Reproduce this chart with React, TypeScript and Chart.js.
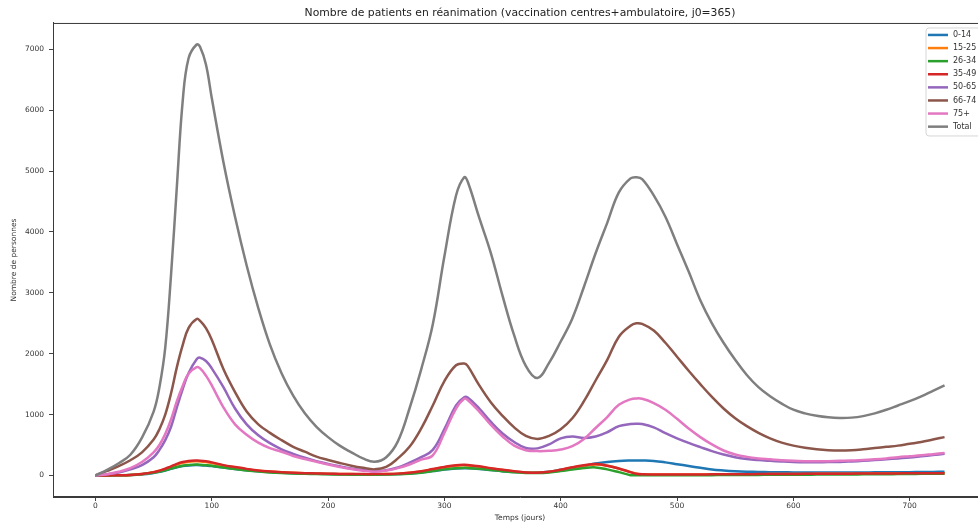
import React, { useEffect, useRef } from "react";
import { Chart, registerables } from "chart.js";

Chart.register(...registerables);

// Days (x values)
const days = [0,10,20,30,40,50,55,60,65,70,75,80,87,90,95,100,110,120,130,140,150,160,170,180,190,200,210,220,230,240,250,260,270,280,290,300,310,317,320,330,340,350,360,370,380,390,400,410,420,430,440,450,460,465,470,480,490,500,510,520,530,540,550,560,570,580,590,600,610,620,630,640,650,660,670,680,690,700,710,720,730];

const xTicks = [0, 100, 200, 300, 400, 500, 600, 700];
const yTicks = [0, 1000, 2000, 3000, 4000, 5000, 6000, 7000];

const seriesLabels = ["0-14", "15-25", "26-34", "35-49", "50-65", "66-74", "75+", "Total"];

const age0_14 = [0,1,2,6,18,42,60,80,108,135,155,165,170,169,163,
  155,130,106,85,68,55,45,38,32,28,24,21,19,18,18,20,24,32,48,72,98,115,
  118,
  117,105,88,70,56,48,47,62,92,125,160,195,220,236,245,
  247,
  246,238,215,185,155,125,98,82,70,62,57,54,52,50,49,49,49,49,50,50,51,52,53,54,56,58,60];

const age15_25 = [0,1,3,7,23,52,76,104,142,180,209,226,233,231,220,
  204,162,131,103,78,63,51,43,36,31,27,24,22,21,21,23,28,43,66,100,133,160,
  166,
  163,143,114,88,65,48,44,57,90,128,160,180,160,112,55,
  28,
  17,14,14,14,15,16,17,18,19,20,21,22,23,24,25,26,27,28,29,30,31,32,33,34,35,36,37];

const age26_34 = [0,1,3,7,20,45,63,85,115,140,160,172,178,176,168,
  158,130,104,82,64,50,40,33,27,22,18,15,13,12,12,14,18,28,45,72,100,120,
  125,
  124,110,90,70,52,42,40,50,72,98,122,132,100,55,5,
  2,
  2,3,3,4,4,5,5,6,7,8,9,10,11,12,13,14,15,16,17,18,20,21,22,24,26,28,30];

const age35_49 = [0,1,3,8,25,55,80,110,150,190,220,238,245,243,232,
  215,170,138,108,82,66,54,45,38,33,28,25,23,22,22,24,30,45,70,105,140,168,
  175,
  172,150,120,92,68,50,46,60,95,135,168,190,160,115,55,
  28,
  18,15,15,15,16,17,18,19,20,21,22,23,24,25,26,27,28,29,30,31,32,33,34,35,36,37,38];

const age50_65 = [0,20,50,100,170,300,420,580,800,1120,1420,1680,1910,1935,1880,
  1760,1450,1100,840,660,530,430,355,290,235,190,150,115,90,70,85,130,210,300,420,760,1150,
  1285,
  1280,1100,880,690,550,450,445,510,610,640,615,640,710,810,845,
  850,
  845,790,695,610,535,466,400,345,300,270,252,240,230,222,218,218,220,222,230,240,252,265,280,295,315,335,355];

const age66_74 = [0,75,155,250,380,590,760,1000,1350,1780,2140,2420,2570,2540,2420,
  2230,1750,1370,1050,840,700,580,470,390,310,255,205,160,125,100,140,280,470,770,1150,1550,1810,
  1840,
  1800,1480,1200,980,790,650,600,650,760,940,1220,1560,1900,2280,2460,
  2500,
  2490,2380,2180,1950,1720,1500,1290,1100,940,810,700,610,540,490,455,430,415,410,415,430,450,470,490,520,550,590,630];

const age75plus = [0,20,60,120,220,380,500,680,920,1220,1470,1670,1780,1760,1640,
  1480,1120,840,670,540,450,390,320,270,225,180,140,105,78,62,80,120,180,260,330,700,1100,
  1260,
  1240,1050,830,640,490,415,400,405,425,480,600,780,960,1160,1250,
  1265,
  1260,1190,1080,930,770,630,510,410,345,305,280,265,250,240,235,233,235,240,245,255,265,280,300,315,330,350,370];

const total = [0,90,200,340,620,1050,1450,2100,3300,4750,6150,6850,7080,7040,6750,
  6200,5150,4250,3450,2750,2150,1680,1310,1020,800,630,490,380,280,225,300,560,1100,1740,2480,3600,4600,
  4900,
  4830,4230,3650,2950,2300,1800,1600,1850,2200,2580,3100,3650,4150,4650,4880,
  4900,
  4870,4600,4250,3800,3350,2880,2500,2180,1900,1650,1450,1300,1180,1080,1020,980,955,945,950,975,1020,1080,1150,1220,1300,1390,1480];

const seriesValues = [age0_14, age15_25, age26_34, age35_49, age50_65, age66_74, age75plus, total];
const seriesColors = ["#1f77b4", "#ff7f0e", "#2ca02c", "#d62728", "#9467bd", "#8c564b", "#e377c2", "#7f7f7f"];

const FONT = '"DejaVu Sans", sans-serif';

const frameLegendPlugin = {
  id: "frameLegend",
  afterDraw(chart: any) {
    const { ctx, chartArea: a } = chart;
    ctx.save();
    ctx.strokeStyle = "#3a3a3a";
    ctx.lineWidth = 1;
    ctx.strokeRect(a.left + 0.5, a.top + 0.5, a.right - a.left - 1, a.bottom - a.top - 1);
    const bx = a.right - 61, by = a.top + 5, bw = 58, bh = 108, r = 3;
    ctx.beginPath();
    ctx.moveTo(bx + r, by);
    ctx.lineTo(bx + bw - r, by);
    ctx.quadraticCurveTo(bx + bw, by, bx + bw, by + r);
    ctx.lineTo(bx + bw, by + bh - r);
    ctx.quadraticCurveTo(bx + bw, by + bh, bx + bw - r, by + bh);
    ctx.lineTo(bx + r, by + bh);
    ctx.quadraticCurveTo(bx, by + bh, bx, by + bh - r);
    ctx.lineTo(bx, by + r);
    ctx.quadraticCurveTo(bx, by, bx + r, by);
    ctx.closePath();
    ctx.fillStyle = "rgba(255,255,255,0.85)";
    ctx.fill();
    ctx.strokeStyle = "#d6d6d6";
    ctx.lineWidth = 1;
    ctx.stroke();
    ctx.font = `8px ${FONT}`;
    ctx.textBaseline = "middle";
    ctx.textAlign = "left";
    chart.data.datasets.forEach((ds: any, i: number) => {
      const y = by + 7 + i * 13.1;
      ctx.strokeStyle = ds.borderColor;
      ctx.lineWidth = 2.5;
      ctx.beginPath();
      ctx.moveTo(bx + 2, y);
      ctx.lineTo(bx + 22, y);
      ctx.stroke();
      ctx.fillStyle = "#333";
      ctx.fillText(ds.label, bx + 27, y);
    });
    ctx.restore();
  },
};

export default function App() {
  const canvasRef = useRef<HTMLCanvasElement | null>(null);

  useEffect(() => {
    const canvas = canvasRef.current;
    if (!canvas) return;
    const n = seriesLabels.length;
    const datasets = seriesLabels.map((label, i) => ({
      label,
      data: days.map((d, j) => ({ x: d, y: seriesValues[i][j] })),
      borderColor: seriesColors[i],
      backgroundColor: seriesColors[i],
      borderWidth: 2.5,
      pointRadius: 0,
      fill: false,
      order: n - 1 - i,
      tension: 0.4,
    }));
    const chart = new Chart(canvas, {
      type: "line",
      data: { datasets },
      plugins: [frameLegendPlugin],
      options: {
        animation: false,
        responsive: false,
        devicePixelRatio: 1,
        layout: { padding: { left: 0, right: 13, top: 0, bottom: 0 }, autoPadding: false },
        plugins: {
          legend: { display: false },
          tooltip: { enabled: false },
          title: {
            display: true,
            text: "Nombre de patients en réanimation (vaccination centres+ambulatoire, j0=365)",
            fullSize: false,
            color: "#222",
            font: { family: FONT, size: 10.8, weight: "normal" },
            padding: { top: 7, bottom: 3 },
          },
        },
        scales: {
          x: {
            type: "linear",
            min: -36.5,
            max: 766.5,
            afterFit: (s: any) => { s.height = 32; },
            afterBuildTicks: (s: any) => { s.ticks = xTicks.map((v) => ({ value: v })); },
            ticks: {
              color: "#333",
              padding: 1,
              maxRotation: 0,
              autoSkip: false,
              font: { family: FONT, size: 7.5 },
              callback: (v: any) => String(v),
            },
            grid: { display: true, drawOnChartArea: false, drawTicks: true, tickLength: 4, tickColor: "#444" },
            border: { display: true, color: "#3a3a3a" },
            title: {
              display: true,
              text: "Temps (jours)",
              color: "#333",
              font: { family: FONT, size: 7.5 },
              padding: { top: 0, bottom: 6 },
            },
          },
          y: {
            type: "linear",
            min: -354,
            max: 7434,
            afterFit: (s: any) => { s.width = 53; },
            afterBuildTicks: (s: any) => { s.ticks = yTicks.map((v) => ({ value: v })); },
            ticks: {
              color: "#333",
              padding: 5,
              autoSkip: false,
              font: { family: FONT, size: 7.5 },
              callback: (v: any) => String(v),
            },
            grid: { display: true, drawOnChartArea: false, drawTicks: true, tickLength: 4, tickColor: "#444" },
            border: { display: true, color: "#3a3a3a" },
            title: {
              display: true,
              text: "Nombre de personnes",
              color: "#333",
              font: { family: FONT, size: 7.5 },
              padding: { top: 10, bottom: 0 },
            },
          },
        },
      },
    });
    return () => chart.destroy();
  }, []);

  return (
    <div style={{ position: "fixed", left: 0, top: 0, width: 978, height: 529, overflow: "hidden", background: "#fff" }}>
      <canvas ref={canvasRef} width={1000} height={529} style={{ display: "block", width: 1000, height: 529 }} />
    </div>
  );
}
